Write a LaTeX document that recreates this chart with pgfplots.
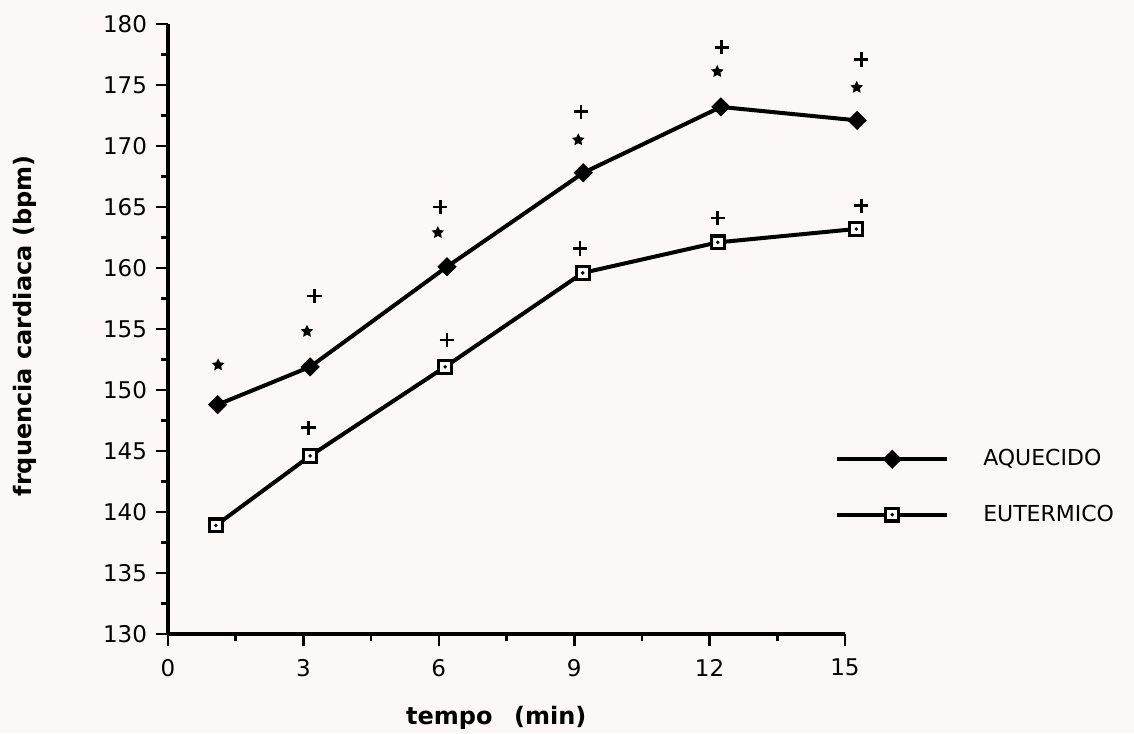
\documentclass[border=0pt]{standalone}
\usepackage{fontspec}
\setmainfont{DejaVu Sans}
\usepackage{pgfplots}
\pgfplotsset{compat=1.18}
\usetikzlibrary{plotmarks}
\definecolor{paper}{RGB}{252,248,248}

\pgfdeclareplotmark{fstar}{%
  \pgfpathmoveto{\pgfpointpolar{90}{\pgfplotmarksize}}%
  \pgfpathlineto{\pgfpointpolar{126}{0.5\pgfplotmarksize}}%
  \pgfpathlineto{\pgfpointpolar{162}{\pgfplotmarksize}}%
  \pgfpathlineto{\pgfpointpolar{198}{0.5\pgfplotmarksize}}%
  \pgfpathlineto{\pgfpointpolar{234}{\pgfplotmarksize}}%
  \pgfpathlineto{\pgfpointpolar{270}{0.5\pgfplotmarksize}}%
  \pgfpathlineto{\pgfpointpolar{306}{\pgfplotmarksize}}%
  \pgfpathlineto{\pgfpointpolar{342}{0.5\pgfplotmarksize}}%
  \pgfpathlineto{\pgfpointpolar{18}{\pgfplotmarksize}}%
  \pgfpathlineto{\pgfpointpolar{54}{0.5\pgfplotmarksize}}%
  \pgfpathclose
  \pgfusepathqfillstroke
}
\pgfdeclareplotmark{sqdot}{%
  \pgfpathrectanglecorners{\pgfpoint{-\pgfplotmarksize}{-\pgfplotmarksize}}{\pgfpoint{\pgfplotmarksize}{\pgfplotmarksize}}%
  \pgfusepathqfillstroke
  \begin{pgfscope}%
  \pgfpathcircle{\pgfpointorigin}{0.3\pgfplotmarksize}%
  \pgfsetfillcolor{black}%
  \pgfusepathqfill
  \end{pgfscope}%
}

\begin{document}
\begin{tikzpicture}
\path[use as bounding box, fill=paper] (-84pt,-49.5pt) rectangle (483pt,317pt);
\begin{axis}[
  at={(0,0)}, anchor=south west,
  scale only axis, width=338.5pt, height=305pt,
  xmin=0, xmax=15, ymin=130, ymax=180,
  clip=false,
  axis x line*=bottom, axis y line*=left,
  axis line style={-, line width=1.8pt, black},
  xtick={0,3,...,15}, minor xtick={1.5,4.5,...,13.5},
  ytick={130,135,...,180}, minor ytick={132.5,137.5,...,177.5},
  tick align=outside,
  major tick length=6pt, minor tick length=3.5pt,
  every tick/.style={black, line width=1.3pt},
  /pgf/number format/assume math mode=true,
  ticklabel style={font=\fontsize{11.5}{13}\selectfont},
  xticklabel style={yshift=-3pt},
  yticklabel style={xshift=-1pt},
  xlabel={tempo\hspace{0.9em}(min)},
  ylabel={frquencia cardiaca (bpm)},
  every axis x label/.style={at={(axis description cs:0.485,-0.138)}, anchor=center,
    font=\fontsize{12}{14}\selectfont\bfseries},
  every axis y label/.style={at={(axis description cs:-0.212,0.505)}, rotate=90, anchor=center,
    font=\fontsize{12}{14}\selectfont\bfseries},
  legend style={draw=none, fill=none, at={(axis description cs:0.985,0.241)}, anchor=west,
    inner sep=0pt, column sep=15pt, row sep=14pt,
    font=\fontsize{11}{13}\selectfont},
  legend cell align=left,
  legend image code/.code={%
    \draw[mark repeat=2,mark phase=2,#1] plot coordinates {(0pt,0pt) (27.5pt,0pt) (55pt,0pt)};},
]
\addplot[black, line width=2pt, mark=square*, mark size=3pt,
  mark options={rotate=45, solid, fill=black, line width=0.8pt}]
  coordinates {(1.10,148.8) (3.15,151.9) (6.18,160.1) (9.20,167.8) (12.25,173.2) (15.27,172.1)};
\addlegendentry{AQUECIDO}
\addplot[black, line width=2pt, mark=sqdot, mark size=3.2pt,
  mark options={solid, fill=white, line width=1.6pt}]
  coordinates {(1.06,138.9) (3.15,144.6) (6.14,151.9) (9.19,159.6) (12.18,162.1) (15.25,163.2)};
\addlegendentry{EUTERMICO}
\addplot[black, only marks, mark=fstar, mark size=2.6pt, mark options={line width=0.6pt, fill=black}, forget plot]
  coordinates {(1.11,152.05) (3.08,154.8) (5.98,162.9) (9.09,170.5) (12.17,176.1) (15.26,174.8)};
\addplot[black, only marks, mark=+, mark size=3.6pt, mark options={line width=1.4pt}, forget plot]
  coordinates {(3.25,157.7) (6.03,165.0) (9.15,172.8) (12.27,178.1) (15.36,177.1)
               (3.11,146.9) (6.18,154.1) (9.13,161.6) (12.18,164.1) (15.36,165.1)};
\end{axis}
\end{tikzpicture}
\end{document}
